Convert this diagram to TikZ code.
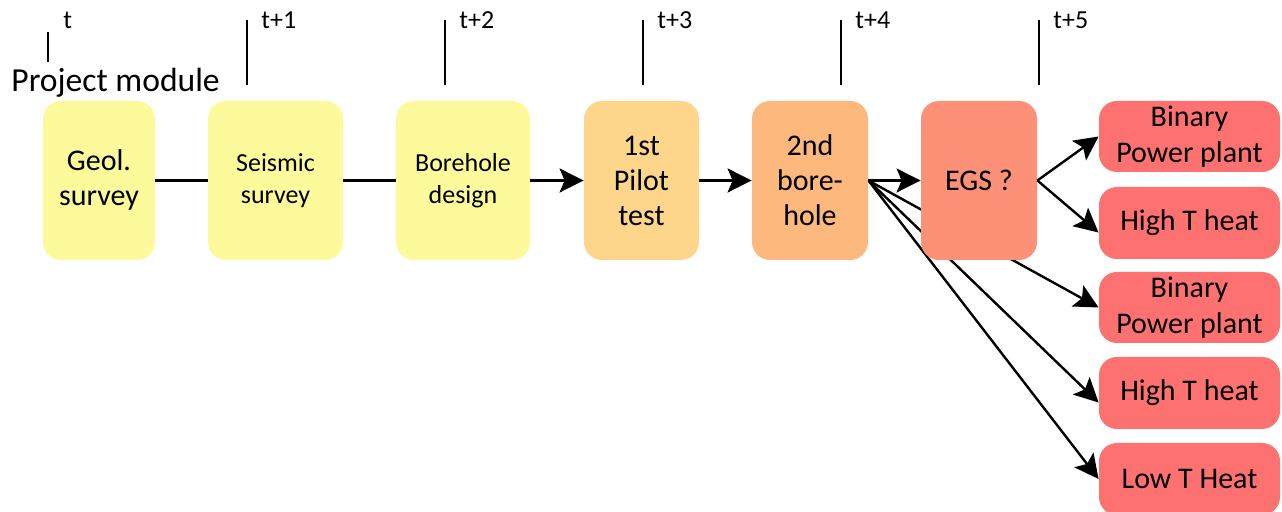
\documentclass[tikz,border=0pt]{standalone}
\usepackage{fontspec}
\setmainfont{Carlito}
\usetikzlibrary{arrows.meta}
\pgfdeclarelayer{bg}
\pgfsetlayers{bg,main}
\definecolor{cyel}{HTML}{FCFA9B}
\definecolor{cpilot}{HTML}{FDD68B}
\definecolor{csecond}{HTML}{FDB87E}
\definecolor{cegs}{HTML}{FC9178}
\definecolor{cend}{HTML}{FE7171}
\begin{document}
\begin{tikzpicture}[x=0.5pt,y=-0.5pt,
  box/.style={rectangle,rounded corners=9pt,draw=none,minimum height=79.5pt,align=center,inner sep=0pt},
  endbox/.style={rectangle,rounded corners=9pt,draw=none,fill=cend,minimum width=90.5pt,align=center,inner sep=0pt,font=\fontsize{15}{18}\selectfont},
  big/.style={font=\fontsize{15}{17.5}\selectfont},
  small/.style={font=\fontsize{13}{16}\selectfont},
  tick/.style={line width=1.2pt},
  ticklabel/.style={anchor=west,inner sep=0pt,font=\fontsize{13}{14}\selectfont},
  conn/.style={line width=1.2pt},
  arr/.style={line width=1.2pt,-{Stealth[length=12pt,width=12pt,inset=2.5pt]}}
]
\useasboundingbox (0,0) rectangle (1282,512);
% time ticks
\draw[tick] (48,32) -- (48,62);
\foreach \x in {247,445,643,841,1039} \draw[tick] (\x,20) -- (\x,85);
\node[ticklabel] (t0) at (63,20) {t};
\node[ticklabel] (t1) at (261,20) {t+1};
\node[ticklabel] (t2) at (459,20) {t+2};
\node[ticklabel] (t3) at (657,20) {t+3};
\node[ticklabel] (t4) at (855,20) {t+4};
\node[ticklabel] (t5) at (1053,20) {t+5};
\node[anchor=west,inner sep=0pt,font=\fontsize{16.8}{18}\selectfont] (pm) at (11,83) {Project module};
% boxes
\node[box,big,fill=cyel,minimum width=56pt] (geol) at (99,180.5) {Geol.\\survey};
\node[box,small,fill=cyel,minimum width=67.5pt] (seis) at (275.5,180.5) {Seismic\\survey};
\node[box,small,fill=cyel,minimum width=67pt] (bore) at (463,180.5) {Borehole\\design};
\node[box,big,fill=cpilot,minimum width=57.5pt] (pilot) at (641.5,180.5) {1st\\Pilot\\test};
\node[box,big,fill=csecond,minimum width=58pt] (second) at (810,180.5) {2nd\\bore-\\hole};
\node[box,big,fill=cegs,minimum width=58pt] (egs) at (979,180.5) {EGS ?};
\node[endbox,minimum height=35.5pt] (r1) at (1189.5,136.5) {Binary\\Power plant};
\node[endbox,minimum height=36pt] (r2) at (1189.5,223) {High T heat};
\node[endbox,minimum height=35.5pt] (r3) at (1189.5,307.5) {Binary\\Power plant};
\node[endbox,minimum height=36pt] (r4) at (1189.5,393) {High T heat};
\node[endbox,minimum height=36pt] (r5) at (1189.5,479) {Low T Heat};
% connectors
\draw[conn] (geol.east) -- (seis.west);
\draw[conn] (seis.east) -- (bore.west);
\draw[arr] (bore.east) -- (pilot.west);
\draw[arr] (pilot.east) -- (second.west);
\draw[arr] (second.east) -- (egs.west);
\begin{pgfonlayer}{bg}
\draw[arr] (second.east) -- (r3.west);
\draw[arr] (second.east) -- (r4.186);
\draw[arr] (second.east) -- (r5.west);
\end{pgfonlayer}
\draw[arr] (egs.east) -- (r1.west);
\draw[arr] (egs.east) -- (r2.186);
\end{tikzpicture}
\end{document}
